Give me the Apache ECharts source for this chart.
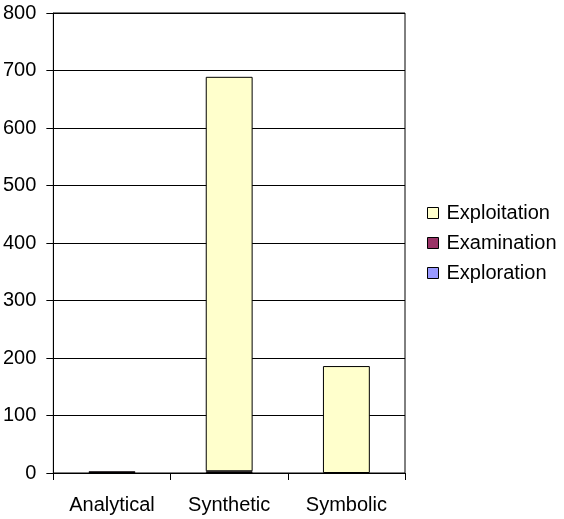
<!DOCTYPE html>
<html>
<head>
<meta charset="utf-8">
<script src="https://cdn.jsdelivr.net/npm/echarts@6/dist/echarts.min.js"></script>
<style>
  html, body { margin: 0; padding: 0; background: #fff; }
  #chart { width: 564px; height: 519px; }
</style>
</head>
<body>
<div id="chart"></div>
<script>
// categories and series
const categories = ['Analytical', 'Synthetic', 'Symbolic'];
const exploration = [null, null, null];
const examination = [3, 3, null];
const exploitation = [null, 686, 186];
const yTicks = [0, 100, 200, 300, 400, 500, 600, 700, 800];

const font = 'Liberation Sans, Arial, sans-serif';

const myChart = echarts.init(document.getElementById('chart'));

const barSeries = (name, data, color) => ({
  name: name,
  type: 'bar',
  stack: 'total',
  barWidth: '40%',
  data: data,
  itemStyle: { color: color, borderColor: '#000', borderWidth: 1 }
});

myChart.setOption({
  animation: false,
  grid: {
    left: 53, right: 159, top: 13, bottom: 46,
    show: true, borderColor: '#000', borderWidth: 1
  },
  legend: {
    orient: 'vertical',
    left: 427,
    top: 203,
    padding: 0,
    icon: 'rect',
    itemWidth: 11,
    itemHeight: 11,
    itemGap: 10,
    data: ['Exploitation', 'Examination', 'Exploration'],
    itemStyle: { borderColor: '#000', borderWidth: 1 },
    textStyle: { fontFamily: font, fontSize: 20, lineHeight: 20, color: '#000', padding: [0, 0, 0, 3] }
  },
  xAxis: {
    type: 'category',
    data: categories,
    axisLine: { lineStyle: { color: '#000' } },
    axisTick: { show: true, length: 7, inside: false, lineStyle: { color: '#000' } },
    axisLabel: { fontFamily: font, fontSize: 20, color: '#000', margin: 22 }
  },
  yAxis: {
    type: 'value',
    min: yTicks[0],
    max: yTicks[yTicks.length - 1],
    interval: yTicks[1] - yTicks[0],
    axisLine: { show: true, lineStyle: { color: '#000' } },
    axisTick: { show: true, length: 7, lineStyle: { color: '#000' } },
    splitLine: { lineStyle: { color: '#000' } },
    axisLabel: { fontFamily: font, fontSize: 20, color: '#000', margin: 17 }
  },
  series: [
    barSeries('Exploration', exploration, '#9999FF'),
    barSeries('Examination', examination, '#993366'),
    barSeries('Exploitation', exploitation, '#FFFFCC')
  ]
});
</script>
</body>
</html>
